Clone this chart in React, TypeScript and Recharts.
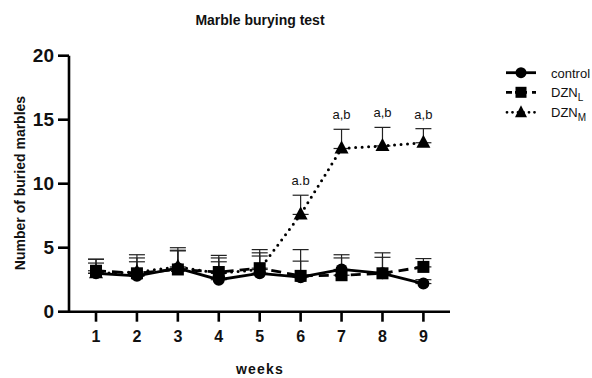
import React from 'react';
import { LineChart, Line, XAxis, YAxis, ErrorBar, LabelList } from 'recharts';

const weeks = [1, 2, 3, 4, 5, 6, 7, 8, 9];
const control = [3.0, 2.8, 3.4, 2.5, 3.0, 2.7, 3.3, 3.0, 2.2];
const controlErr = [0.8, 1.1, 1.4, 1.4, 1.35, 1.25, 1.15, 1.25, 0.3];
const dznL = [3.2, 3.0, 3.3, 3.1, 3.4, 2.8, 2.85, 3.0, 3.5];
const dznLErr = [0.9, 1.2, 1.45, 1.1, 1.2, 2.05, 1.35, 1.6, 0.65];
const dznM = [3.0, 3.1, 3.5, 3.0, 3.3, 7.6, 12.75, 12.95, 13.2];
const dznMErr = [1.1, 1.35, 1.5, 1.4, 1.55, 1.5, 1.5, 1.45, 1.1];
const annotations = ['', '', '', '', '', 'a.b', 'a,b', 'a,b', 'a,b'];
const yTicks = [0, 5, 10, 15, 20];

const FONT = '"Liberation Sans", Arial, sans-serif';

const data = weeks.map((w, i) => ({
  week: w,
  control: control[i],
  controlErr: [0, controlErr[i]],
  dznL: dznL[i],
  dznLErr: [0, dznLErr[i]],
  dznM: dznM[i],
  dznMErr: [0, dznMErr[i]],
  annot: annotations[i] ? dznM[i] + dznMErr[i] : null,
}));

const SquareDot = (props: any) => {
  const { cx, cy, index } = props;
  if (cx == null || cy == null) return <g key={`s${index}`} />;
  return <rect key={`s${index}`} x={cx - 6} y={cy - 6} width={12} height={12} fill="#000" />;
};

const TriDot = (props: any) => {
  const { cx, cy, index } = props;
  if (cx == null || cy == null) return <g key={`t${index}`} />;
  return (
    <polygon
      key={`t${index}`}
      points={`${cx},${cy - 8} ${cx - 7},${cy + 5} ${cx + 7},${cy + 5}`}
      fill="#000"
    />
  );
};

const AnnotLabel = (props: any) => {
  const { x, y, index, value } = props;
  if (value == null || x == null || y == null) return null;
  return (
    <text x={x} y={y - 10} textAnchor="middle" fontSize={13} fontFamily={FONT} fill="#111">
      {annotations[index]}
    </text>
  );
};

const Legend = () => {
  const rows = [
    { y: 72.7, label: 'control', sub: '' },
    { y: 92.3, label: 'DZN', sub: 'L' },
    { y: 112.3, label: 'DZN', sub: 'M' },
  ];
  return (
    <svg width={592} height={378} style={{ position: 'absolute', left: 0, top: 0, pointerEvents: 'none' }}>
      <text x={260} y={25} textAnchor="middle" fontSize={14} fontWeight="bold" fontFamily={FONT} fill="#111">
        Marble burying test
      </text>
      <text
        x={0}
        y={0}
        transform="translate(25,183) rotate(-90)"
        textAnchor="middle"
        fontSize={14}
        fontWeight="bold"
        fontFamily={FONT}
        fill="#111"
      >
        Number of buried marbles
      </text>
      <text x={260} y={374} textAnchor="middle" fontSize={14} fontWeight="bold" fontFamily={FONT} letterSpacing={1.2} fill="#111">
        weeks
      </text>
      <line x1={506} y1={rows[0].y} x2={536} y2={rows[0].y} stroke="#000" strokeWidth={2.8} />
      <circle cx={521} cy={rows[0].y} r={5.5} fill="#000" />
      <line x1={506} y1={rows[1].y} x2={536} y2={rows[1].y} stroke="#000" strokeWidth={2.8} strokeDasharray="6 3 12 5 4" />
      <rect x={515.5} y={rows[1].y - 5.5} width={11} height={11} fill="#000" />
      <line x1={507} y1={rows[2].y} x2={536} y2={rows[2].y} stroke="#000" strokeWidth={2.8} strokeDasharray="0 5.5" strokeLinecap="round" />
      <polygon points={`521,${rows[2].y - 7} 515,${rows[2].y + 5} 527,${rows[2].y + 5}`} fill="#000" />
      {rows.map((r, i) => (
        <text key={i} x={551} y={r.y + 5} fontSize={13} fontFamily={FONT} fill="#111">
          {r.label}
          {r.sub ? (
            <tspan fontSize={10} dy={4}>
              {r.sub}
            </tspan>
          ) : null}
        </text>
      ))}
    </svg>
  );
};

export default function App() {
  return (
    <div style={{ position: 'absolute', left: 0, top: 0, width: 592, height: 378, background: '#fff' }}>
      <LineChart
        width={592}
        height={378}
        data={data}
        margin={{ top: 55.7, right: 142, bottom: 36.3, left: 0 }}
      >
        <XAxis
          type="number"
          dataKey="week"
          domain={[0.34, 9.65]}
          ticks={weeks}
          allowDataOverflow
          height={30}
          axisLine={{ stroke: '#000', strokeWidth: 2.6 }}
          tickLine={{ stroke: '#000', strokeWidth: 2.6 }}
          tickSize={10}
          tickMargin={9}
          tick={{ fontSize: 16, fontWeight: 'bold', fill: '#111', fontFamily: FONT }}
        />
        <YAxis
          type="number"
          domain={[0, 20]}
          ticks={yTicks}
          width={69}
          allowDataOverflow
          axisLine={{ stroke: '#000', strokeWidth: 2.6 }}
          tickLine={{ stroke: '#000', strokeWidth: 2.6 }}
          tickSize={11}
          tickMargin={4}
          tick={{ fontSize: 19, fontWeight: 'bold', fill: '#111', fontFamily: FONT }}
        />
        <Line
          dataKey="dznM"
          stroke="#000"
          strokeWidth={3}
          strokeDasharray="0 6.5"
          strokeLinecap="round"
          dot={TriDot}
          activeDot={false}
          isAnimationActive={false}
        >
          <ErrorBar dataKey="dznMErr" direction="y" width={8} stroke="#222" strokeWidth={1.2} />
        </Line>
        <Line
          dataKey="dznL"
          stroke="#000"
          strokeWidth={2.8}
          strokeDasharray="10 6"
          dot={SquareDot}
          activeDot={false}
          isAnimationActive={false}
        >
          <ErrorBar dataKey="dznLErr" direction="y" width={8} stroke="#222" strokeWidth={1.2} />
        </Line>
        <Line
          dataKey="control"
          stroke="#000"
          strokeWidth={2.8}
          dot={{ r: 6, fill: '#000', stroke: '#000', strokeWidth: 0 }}
          activeDot={false}
          isAnimationActive={false}
        >
          <ErrorBar dataKey="controlErr" direction="y" width={8} stroke="#222" strokeWidth={1.2} />
        </Line>
        <Line
          dataKey="annot"
          stroke="none"
          dot={false}
          activeDot={false}
          isAnimationActive={false}
          legendType="none"
        >
          <LabelList dataKey="annot" content={AnnotLabel} />
        </Line>
      </LineChart>
      <Legend />
    </div>
  );
}
